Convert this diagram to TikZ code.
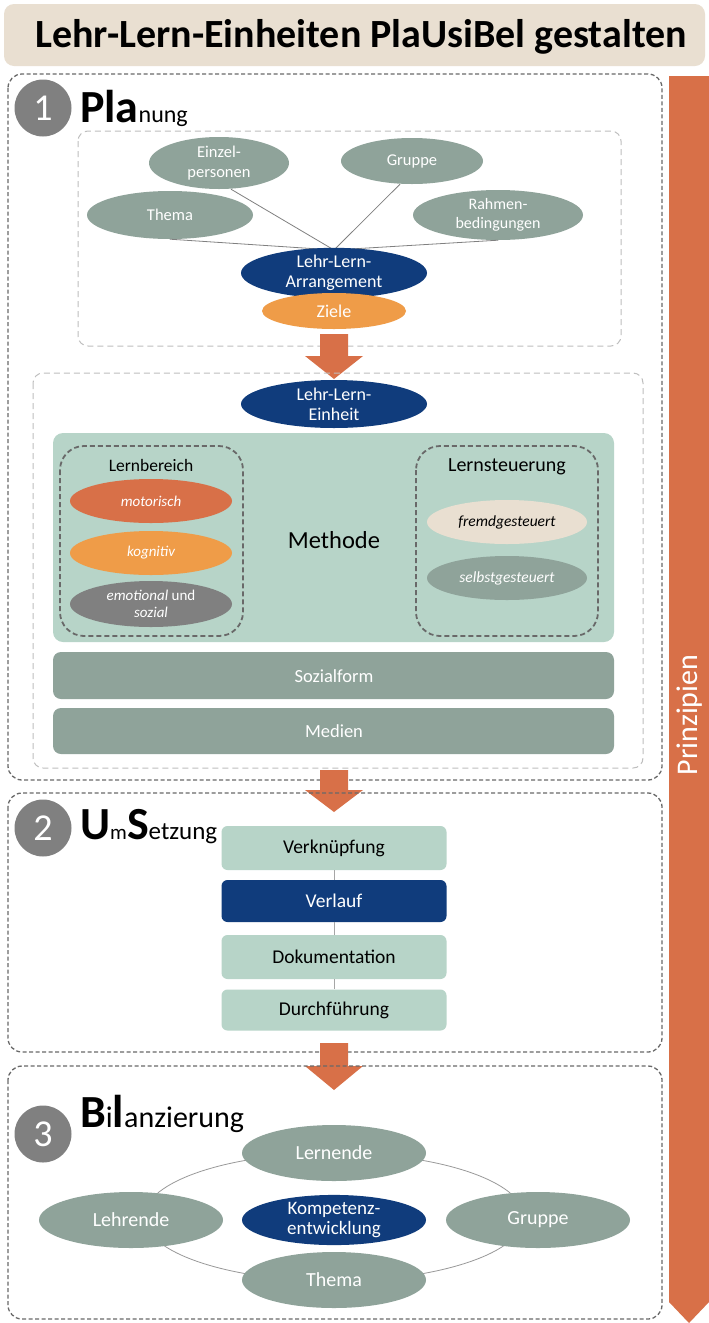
\documentclass[tikz,border=0pt]{standalone}
\usepackage{fontspec}
\setmainfont{Carlito}
\usetikzlibrary{shapes.geometric}

\definecolor{sage}{RGB}{143,163,154}
\definecolor{navy}{RGB}{16,60,124}
\definecolor{amber}{RGB}{239,156,72}
\definecolor{rust}{RGB}{216,112,72}
\definecolor{mint}{RGB}{183,212,200}
\definecolor{sand}{RGB}{233,223,209}
\definecolor{stone}{RGB}{128,128,128}
\definecolor{dashdark}{RGB}{105,105,105}
\definecolor{dashlight}{RGB}{190,190,190}

\newcommand{\fs}[1]{\fontsize{#1}{#1}\selectfont}

\tikzset{
  oval/.style={ellipse, inner sep=0pt, align=center, text=white},
  secbox/.style={draw=dashdark, line width=1.3pt, dash pattern=on 4pt off 2.5pt, rounded corners=14pt},
  subbox/.style={draw=dashlight, line width=1pt, dash pattern=on 6pt off 4pt, rounded corners=10pt},
  groupbox/.style={draw=dashdark, line width=1.8pt, dash pattern=on 5pt off 3pt, rounded corners=24pt},
  numdisc/.style={circle, fill=stone, minimum size=57pt, inner sep=0pt, text=white, font=\fs{38}},
  bar/.style={fill=sage, rounded corners=8pt},
  stepbox/.style={rectangle, rounded corners=6pt, minimum width=225pt, inner sep=0pt, font=\fs{19.5}},
  blockarrow/.style={fill=rust},
  link/.style={draw=gray, line width=0.8pt}
}

\begin{document}
\begin{tikzpicture}[x=1pt, y=-1pt]
\useasboundingbox (0,0) rectangle (709,1323);
\fill[white] (0,0) rectangle (709,1323);

% heading band
\fill[sand, rounded corners=10pt] (4,4) rectangle (705,66);
\node[font=\bfseries\fs{40}] (title) at (361,37) {Lehr-Lern-Einheiten PlaUsiBel gestalten};

% principles band on the right
\fill[rust] (669,76) -- (709,76) -- (709,1302) -- (689,1323) -- (669,1302) -- cycle;
\node[rotate=90, text=white, font=\fs{30}] (prinz) at (690,715) {Prinzipien};

% ---------------- 1 Planung ----------------
\draw[secbox] (8,74) rectangle (662,780);
\node[numdisc] (n1) at (43,108) {1};
\node[anchor=base west, inner sep=0pt] (h1) at (80,122) {\bfseries\fs{46}Pla\mdseries\fs{24}nung};

\draw[subbox] (78,131) rectangle (621,346);
\coordinate (hub) at (334,250);
\node[oval, fill=sage, minimum width=140pt, minimum height=52pt, font=\fs{16.5}] (einzel) at (219,163) {Einzel-\\[3pt]personen};
\node[oval, fill=sage, minimum width=142pt, minimum height=46pt, font=\fs{16.5}] (gruppe) at (412,161) {Gruppe};
\node[oval, fill=sage, minimum width=166pt, minimum height=48pt, font=\fs{16.5}] (thema) at (170,215) {Thema};
\node[oval, fill=sage, minimum width=170pt, minimum height=50pt, font=\fs{16}] (rahmen) at (498,215) {Rahmen-\\[3pt]bedingungen};
\draw[link] (thema.south) -- (hub);
\draw[link] (rahmen.south) -- (hub);
\draw[link] ([xshift=12pt]einzel.south) -- (hub);
\draw[link] ([xshift=-12pt]gruppe.south) -- (hub);
\node[oval, fill=navy, minimum width=186pt, minimum height=48pt, font=\fs{18}] (arr) at (334,273) {Lehr-Lern-\\[2pt]Arrangement};
\node[oval, fill=amber, minimum width=144pt, minimum height=36pt, font=\fs{18}] (ziele) at (334,311) {Ziele};

% arrow into the unit block
\fill[blockarrow] (320,334) -- (348,334) -- (348,356) -- (363,356) -- (334,379) -- (305,356) -- (320,356) -- cycle;

\draw[subbox] (33,373) rectangle (643,768);
\node[oval, fill=navy, minimum width=186pt, minimum height=48pt, font=\fs{18}] (einheit) at (334,404) {Lehr-Lern-\\[2pt]Einheit};

\fill[mint, rounded corners=10pt] (53,433) rectangle (614,642);
\node[font=\fs{24.5}] (methode) at (334,540) {Methode};

\draw[groupbox] (60,446) rectangle (243,636);
\node[font=\fs{17.5}] (lb) at (151,465) {Lernbereich};
\node[oval, fill=rust, minimum width=162pt, minimum height=44pt, font=\itshape\fs{15}] (motor) at (151,501) {motorisch};
\node[oval, fill=amber, minimum width=162pt, minimum height=44pt, font=\itshape\fs{15}] (kogn) at (151,553) {kognitiv};
\node[oval, fill=stone, minimum width=162pt, minimum height=46pt, font=\fs{15}] (emo) at (151,604) {\itshape emotional \upshape und\\[2pt]\itshape sozial};

\draw[groupbox] (416,446) rectangle (598,636);
\node[font=\fs{20}] (ls) at (507,467) {Lernsteuerung};
\node[oval, fill=sand, text=black, minimum width=160pt, minimum height=44pt, font=\itshape\fs{15.5}] (fremd) at (507,522) {fremdgesteuert};
\node[oval, fill=sage, minimum width=160pt, minimum height=44pt, font=\itshape\fs{15.5}] (selbst) at (507,578) {selbstgesteuert};

\fill[bar] (53,652) rectangle (614,699);
\node[text=white, font=\fs{18.5}] (sozial) at (334,676) {Sozialform};
\fill[bar] (53,708) rectangle (614,754);
\node[text=white, font=\fs{18.5}] (medien) at (334,731) {Medien};

% arrow into 2
\fill[blockarrow] (320,770) -- (348,770) -- (348,790) -- (363,790) -- (334,812) -- (305,790) -- (320,790) -- cycle;

% ---------------- 2 UmSetzung ----------------
\draw[secbox] (8,793) rectangle (662,1052);
\node[numdisc] (n2) at (43,828) {2};
\node[anchor=base west, inner sep=0pt] (h2) at (80,839) {\bfseries\fs{46}U\mdseries\fs{21}m\bfseries\fs{46}S\mdseries\fs{25}etzung};

\node[stepbox, fill=mint, minimum height=44pt] (verk) at (334,848) {Verknüpfung};
\node[stepbox, fill=navy, text=white, minimum height=42pt] (verl) at (334,901) {Verlauf};
\node[stepbox, fill=mint, minimum height=44pt] (doku) at (334,957) {Dokumentation};
\node[stepbox, fill=mint, minimum height=41pt] (durch) at (334,1010) {Durchführung};
\draw[link, draw=gray!70] (verk) -- (verl);
\draw[link, draw=gray!70] (verl) -- (doku);
\draw[link, draw=gray!70] (doku) -- (durch);

% arrow into 3
\fill[blockarrow] (320,1043) -- (348,1043) -- (348,1066) -- (363,1066) -- (334,1090) -- (305,1066) -- (320,1066) -- cycle;

% ---------------- 3 Bilanzierung ----------------
\draw[secbox] (8,1066) rectangle (662,1319);
\node[numdisc] (n3) at (43,1134) {3};
\node[anchor=base west, inner sep=0pt] (h3) at (80,1127) {\bfseries\fs{46}B\mdseries\fs{30}i\bfseries\fs{46}l\mdseries\fs{30}anzierung};

\draw[draw=gray!80, line width=0.8pt] (334,1217) ellipse [x radius=190pt, y radius=64pt];
\node[oval, fill=sage, minimum width=184pt, minimum height=56pt, font=\fs{20}] (lernende) at (334,1153) {Lernende};
\node[oval, fill=sage, minimum width=184pt, minimum height=56pt, font=\fs{20}] (lehrende) at (131,1220) {Lehrende};
\node[oval, fill=sage, minimum width=184pt, minimum height=56pt, font=\fs{20}] (gruppe3) at (538,1220) {Gruppe};
\node[oval, fill=sage, minimum width=184pt, minimum height=56pt, font=\fs{20}] (thema3) at (334,1280) {Thema};
\node[oval, fill=navy, minimum width=184pt, minimum height=48pt, font=\fs{19}] (kompetenz) at (334,1220) {Kompetenz-\\[1pt]entwicklung};
\end{tikzpicture}
\end{document}
